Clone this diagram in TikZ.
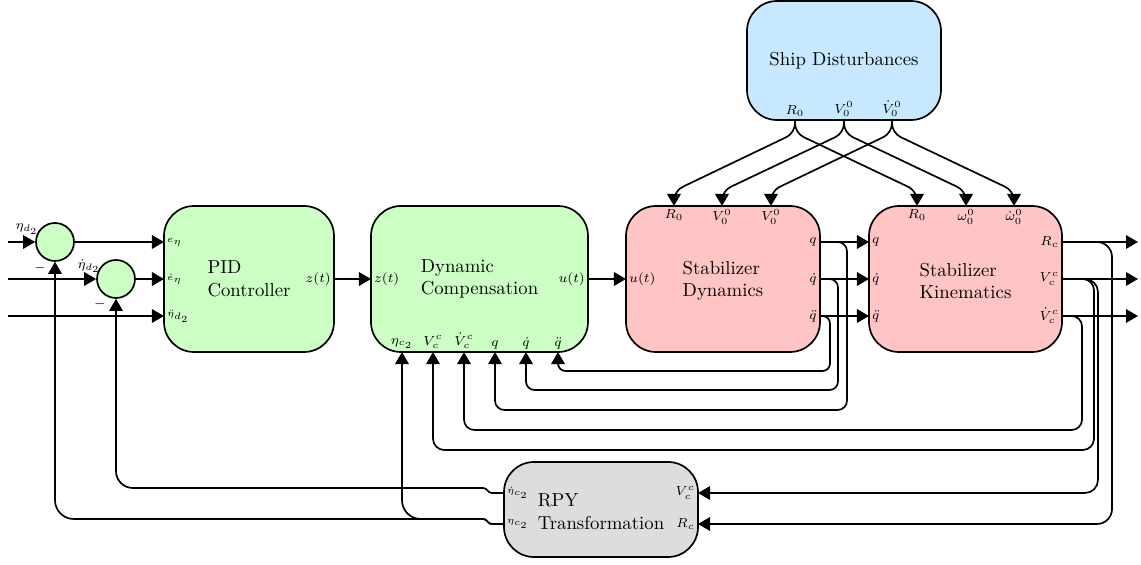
\documentclass[tikz,border=0pt]{standalone}
\usetikzlibrary{arrows.meta,calc}
\newlength\pxu
\setlength\pxu{0.533pt}
\definecolor{cgreen}{RGB}{204,255,196}
\definecolor{cpink}{RGB}{255,196,196}
\definecolor{cblue}{RGB}{200,232,255}
\definecolor{cgrey}{RGB}{221,221,221}
\begin{document}
\begin{tikzpicture}[x=\pxu, y=-\pxu,
  box/.style={draw, line width=0.9pt, rounded corners=16pt, inner sep=0pt},
  title/.style={align=left, inner sep=1pt},
  sumnode/.style={draw, circle, line width=0.9pt, fill=cgreen, minimum size=38\pxu, inner sep=0pt},
  wire/.style={line width=0.9pt},
  arr/.style={wire, -{Triangle[length=6.4pt,width=7.2pt]}},
  port/.style={font=\scriptsize, inner sep=1.5pt},
  tport/.style={font=\tiny, inner sep=1.5pt}]
\useasboundingbox (0,0) rectangle (1141,565);

% blocks
\node[box, fill=cblue, minimum width=194\pxu, minimum height=119\pxu] (ship) at (844,60.5) {};
\node[box, fill=cgreen, minimum width=170\pxu, minimum height=146\pxu] (pid) at (249,279) {};
\node[box, fill=cgreen, minimum width=217\pxu, minimum height=146\pxu] (dc) at (479.5,279) {};
\node[box, fill=cpink, minimum width=194\pxu, minimum height=146\pxu] (sd) at (723,279) {};
\node[box, fill=cpink, minimum width=193\pxu, minimum height=146\pxu] (sk) at (965.5,279) {};
\node[box, fill=cgrey, minimum width=194\pxu, minimum height=95\pxu] (rpy) at (601,509.5) {};

% block titles
\node[title] (shipT) at (ship) {Ship Disturbances};
\node[title] (pidT) at (pid) {PID\\Controller};
\node[title] (dcT) at (dc) {Dynamic\\Compensation};
\node[title] (sdT) at ([yshift=-2\pxu]sd.center) {Stabilizer\\Dynamics};
\node[title] (skT) at ([yshift=-2\pxu]sk.center) {Stabilizer\\Kinematics};
\node[title] (rpyT) at ([yshift=-2\pxu]rpy.center) {RPY\\Transformation};

% summing junctions
\node[sumnode] (s1) at (55,242) {};
\node[sumnode] (s2) at (116,279) {};
\node[port] (s1lab) at (27,229) {$\eta_{d_2}$};
\node[port] (s2lab) at (89,266) {$\dot\eta_{d_2}$};
\node[port] (s1neg) at (40,268) {$-$};
\node[port] (s2neg) at (100,304) {$-$};

% ports: ship disturbances
\node[port, anchor=south] (shR) at (795,120) {$R_0$};
\node[port, anchor=south] (shV) at (844,120) {$V_0^0$};
\node[port, anchor=south] (shVd) at (892,120) {$\dot V_0^0$};

% ports: PID
\node[tport, anchor=west] (pidE) at (164,242) {$e_\eta$};
\node[tport, anchor=west] (pidEd) at (164,279) {$\dot e_\eta$};
\node[tport, anchor=west] (pidA) at (164,316) {$\ddot\eta_{d_2}$};
\node[port, anchor=east] (pidZ) at (334,279) {$z(t)$};

% ports: dynamic compensation
\node[port, anchor=west] (dcZ) at (371,279) {$z(t)$};
\node[port, anchor=east] (dcU) at (588,279) {$u(t)$};
\node[port, anchor=south] (dcEta) at (402,352) {$\eta_{c_2}$};
\node[port, anchor=south] (dcV) at (433,352) {$V_c^c$};
\node[port, anchor=south] (dcVd) at (464,352) {$\dot V_c^c$};
\node[port, anchor=south] (dcQ) at (495,352) {$q$};
\node[port, anchor=south] (dcQd) at (526,352) {$\dot q$};
\node[port, anchor=south] (dcQdd) at (558,352) {$\ddot q$};

% ports: stabilizer dynamics
\node[port, anchor=west] (sdU) at (626,279) {$u(t)$};
\node[port, anchor=north] (sdR) at (674,206) {$R_0$};
\node[port, anchor=north] (sdV) at (722,206) {$V_0^0$};
\node[port, anchor=north] (sdV2) at (771,206) {$V_0^0$};
\node[port, anchor=east] (sdQ) at (820,242) {$q$};
\node[port, anchor=east] (sdQd) at (820,279) {$\dot q$};
\node[port, anchor=east] (sdQdd) at (820,316) {$\ddot q$};

% ports: stabilizer kinematics
\node[port, anchor=west] (skQ) at (869,242) {$q$};
\node[port, anchor=west] (skQd) at (869,279) {$\dot q$};
\node[port, anchor=west] (skQdd) at (869,316) {$\ddot q$};
\node[port, anchor=north] (skR0) at (917,206) {$R_0$};
\node[port, anchor=north] (skW) at (966,206) {$\omega_0^0$};
\node[port, anchor=north] (skWd) at (1014,206) {$\dot\omega_0^0$};
\node[port, anchor=east] (skR) at (1062,242) {$R_c$};
\node[port, anchor=east] (skV) at (1062,279) {$V_c^c$};
\node[port, anchor=east] (skVd) at (1062,316) {$\dot V_c^c$};

% ports: RPY transformation
\node[tport, anchor=west] (rpyEd) at (504,493) {$\dot\eta_{c_2}$};
\node[tport, anchor=west] (rpyE) at (504,524) {$\eta_{c_2}$};
\node[port, anchor=east] (rpyV) at (698,493) {$V_c^c$};
\node[port, anchor=east] (rpyR) at (698,524) {$R_c$};

% free ends
\coordinate (in1) at (8,242);
\coordinate (in2) at (8,279);
\coordinate (in3) at (8,316);
\coordinate (out1) at (1138,242);
\coordinate (out2) at (1138,279);
\coordinate (out3) at (1138,316);

% forward path
\draw[arr] (in1) -- (s1.west);
\draw[arr] (in2) -- (s2.west);
\draw[arr] (in3) -- (pidA.west);
\draw[arr] (s1.east) -- (pidE.west);
\draw[arr] (s2.east) -- (pidEd.west);
\draw[arr] (pidZ.east) -- (dcZ.west);
\draw[arr] (dcU.east) -- (sdU.west);
\draw[arr] (sdQ.east) -- (skQ.west);
\draw[arr] (sdQd.east) -- (skQd.west);
\draw[arr] (sdQdd.east) -- (skQdd.west);
\draw[arr] (skR.east) -- (out1);
\draw[arr] (skV.east) -- (out2);
\draw[arr] (skVd.east) -- (out3);

% disturbance inputs
\begin{scope}[rounded corners=5pt]
\draw[arr] (shR.south) -- (795,133) -- (674,191) -- (sdR.north);
\draw[arr] (shR.south) -- (795,133) -- (917,191) -- (skR0.north);
\draw[arr] (shV.south) -- (844,133) -- (722,191) -- (sdV.north);
\draw[arr] (shV.south) -- (844,133) -- (966,191) -- (skW.north);
\draw[arr] (shVd.south) -- (892,133) -- (771,191) -- (sdV2.north);
\draw[arr] (shVd.south) -- (892,133) -- (1014,191) -- (skWd.north);
\end{scope}

% feedback of the joint states
\draw[arr, rounded corners=4pt] (sdQdd.east) -- (830,316) -- (830,371) -- (558,371) -- (dcQdd.south);
\draw[arr, rounded corners=4.5pt] (sdQd.east) -- (838,279) -- (838,390) -- (526,390) -- (dcQd.south);
\draw[arr, rounded corners=5pt] (sdQ.east) -- (847,242) -- (847,410) -- (495,410) -- (dcQ.south);

% feedback of the carrier velocities
\draw[arr, rounded corners=5.5pt] (skVd.east) -- (1082,316) -- (1082,430) -- (464,430) -- (dcVd.south);
\draw[arr, rounded corners=6pt] (skV.east) -- (1094,279) -- (1094,450) -- (433,450) -- (dcV.south);
\draw[arr, rounded corners=7pt] (skV.east) -- (1098,279) -- (1098,493) -- (rpyV.east);
\draw[arr, rounded corners=8pt] (skR.east) -- (1112,242) -- (1112,524) -- (rpyR.east);

% feedback of the attitude
\draw[arr] (rpyE.west) [rounded corners=1.5pt] -- (489,524) -- (486,519) [rounded corners=10pt] -- (55,519) -- (s1.south);
\draw[arr] (rpyE.west) [rounded corners=1.5pt] -- (489,524) -- (486,519) [rounded corners=10pt] -- (402,519) -- (dcEta.south);
\draw[arr] (rpyEd.west) [rounded corners=1.5pt] -- (489,493) -- (486,488) [rounded corners=9pt] -- (116,488) -- (s2.south);
\end{tikzpicture}
\end{document}
